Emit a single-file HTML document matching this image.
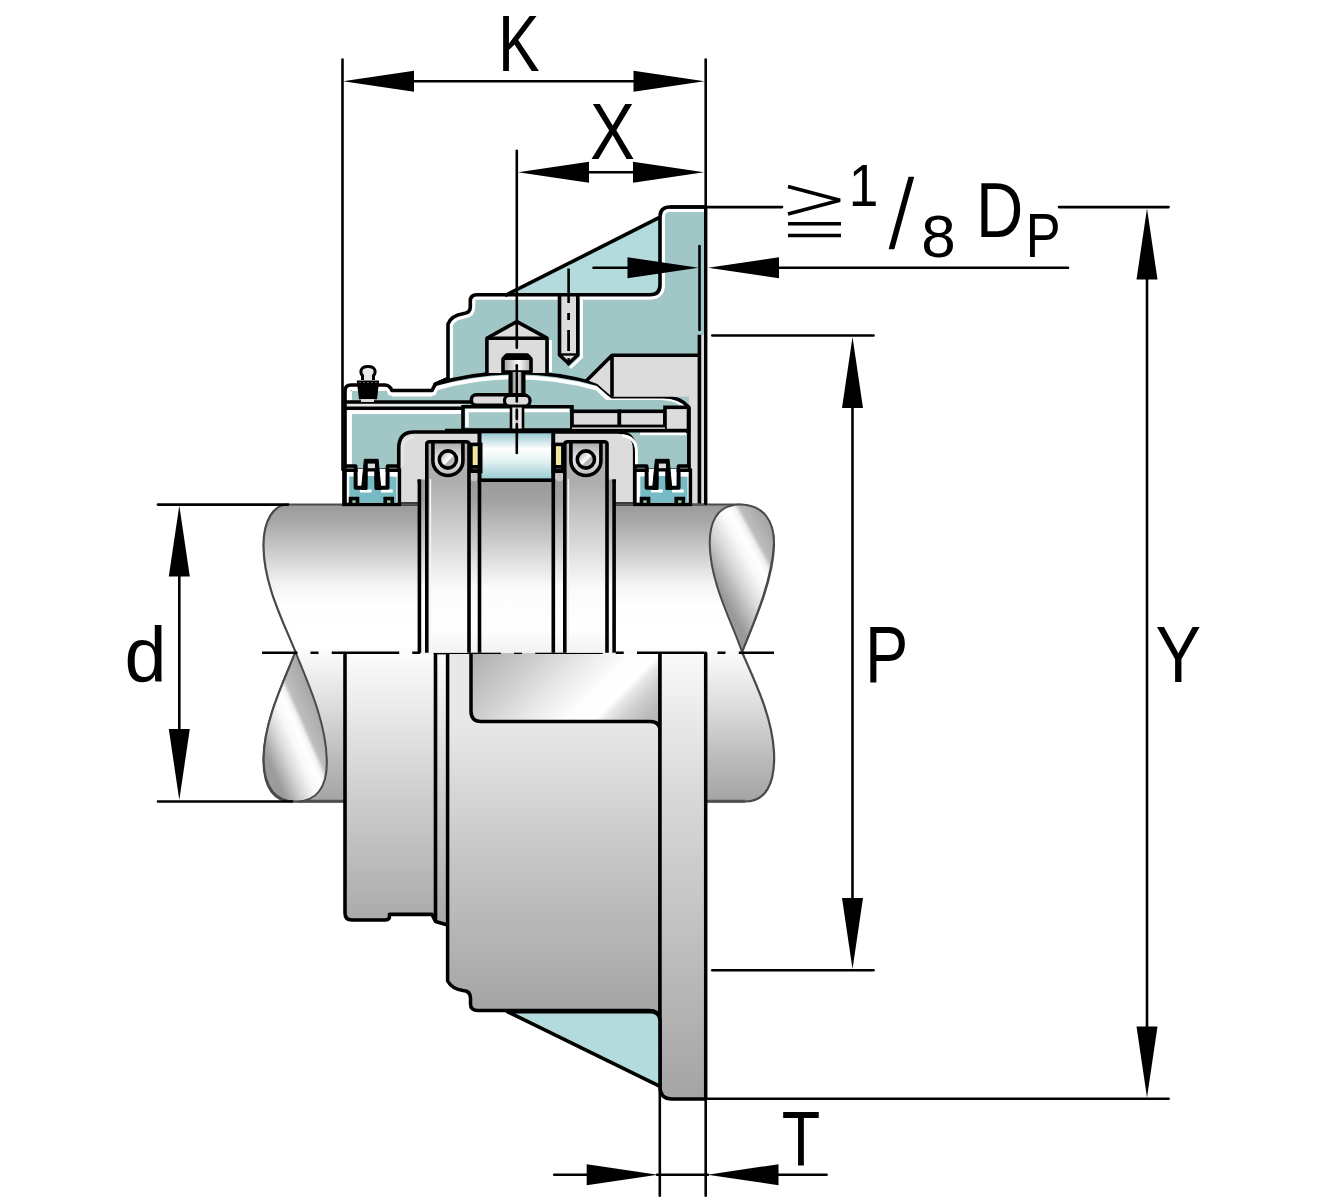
<!DOCTYPE html>
<html><head><meta charset="utf-8"><title>Bearing housing dimensions</title>
<style>html,body{margin:0;padding:0;background:#fff;} svg{display:block;}</style></head>
<body><svg width="1330" height="1200" viewBox="0 0 1330 1200">
<rect width="1330" height="1200" fill="#fff"/>
<defs>
<linearGradient id="gShaft" gradientUnits="userSpaceOnUse" x1="0" y1="504" x2="0" y2="802">
 <stop offset="0" stop-color="#9a9a9a"/><stop offset="0.054" stop-color="#a6a6a6"/><stop offset="0.171" stop-color="#d0d0d0"/>
 <stop offset="0.272" stop-color="#f4f4f4"/><stop offset="0.339" stop-color="#fefefe"/><stop offset="0.473" stop-color="#ffffff"/><stop offset="0.658" stop-color="#e0e0e0"/><stop offset="0.859" stop-color="#bababa"/><stop offset="1" stop-color="#a4a4a4"/>
</linearGradient>
<linearGradient id="gRing" gradientUnits="userSpaceOnUse" x1="0" y1="480" x2="0" y2="653">
 <stop offset="0" stop-color="#9a9a9a"/><stop offset="0.12" stop-color="#a2a2a2"/><stop offset="0.35" stop-color="#cacaca"/>
 <stop offset="0.62" stop-color="#fbfbfb"/><stop offset="0.85" stop-color="#ffffff"/><stop offset="1" stop-color="#f2f2f2"/>
</linearGradient>
<linearGradient id="gRing2" gradientUnits="userSpaceOnUse" x1="0" y1="441" x2="0" y2="653">
 <stop offset="0" stop-color="#b4b4b4"/><stop offset="0.2" stop-color="#aeaeae"/><stop offset="0.45" stop-color="#d4d4d4"/>
 <stop offset="0.7" stop-color="#fbfbfb"/><stop offset="0.88" stop-color="#ffffff"/><stop offset="1" stop-color="#f2f2f2"/>
</linearGradient>
<linearGradient id="gLow" gradientUnits="userSpaceOnUse" x1="0" y1="652" x2="0" y2="1011">
 <stop offset="0" stop-color="#fcfcfc"/><stop offset="0.41" stop-color="#cdcdcd"/><stop offset="0.75" stop-color="#aaaaaa"/><stop offset="1" stop-color="#a3a3a3"/>
</linearGradient>
<linearGradient id="gBody" gradientUnits="userSpaceOnUse" x1="0" y1="722" x2="0" y2="1011">
 <stop offset="0" stop-color="#e8e8e8"/><stop offset="0.5" stop-color="#c4c4c4"/><stop offset="1" stop-color="#a4a4a4"/>
</linearGradient>
<linearGradient id="gFlange" gradientUnits="userSpaceOnUse" x1="0" y1="652" x2="0" y2="1100">
 <stop offset="0" stop-color="#fafafa"/><stop offset="0.12" stop-color="#ececec"/><stop offset="0.3" stop-color="#dadada"/><stop offset="0.7" stop-color="#bbbbbb"/><stop offset="1" stop-color="#a4a4a4"/>
</linearGradient>
<linearGradient id="gRecess" gradientUnits="userSpaceOnUse" x1="470" y1="640" x2="609.6" y2="776.1">
 <stop offset="0" stop-color="#a6a6a6"/><stop offset="0.3" stop-color="#cdcdcd"/><stop offset="0.5" stop-color="#ebebeb"/><stop offset="0.64" stop-color="#fdfdfd"/><stop offset="0.745" stop-color="#ffffff"/><stop offset="0.775" stop-color="#eaeaea"/><stop offset="0.84" stop-color="#d0d0d0"/><stop offset="0.92" stop-color="#bcbcbc"/><stop offset="1" stop-color="#acacac"/>
</linearGradient>
<linearGradient id="gLobeR" gradientUnits="userSpaceOnUse" x1="712" y1="575" x2="777.8" y2="539">
 <stop offset="0" stop-color="#999999"/><stop offset="0.3" stop-color="#d8d8d8"/><stop offset="0.5" stop-color="#f8f8f8"/><stop offset="0.62" stop-color="#ffffff"/><stop offset="0.7" stop-color="#f0f0f0"/><stop offset="0.76" stop-color="#bdbdbd"/><stop offset="1" stop-color="#a4a4a4"/>
</linearGradient>
<linearGradient id="gLobeL" gradientUnits="userSpaceOnUse" x1="262" y1="745" x2="326" y2="716.8">
 <stop offset="0" stop-color="#9c9c9c"/><stop offset="0.25" stop-color="#dadada"/><stop offset="0.42" stop-color="#f8f8f8"/><stop offset="0.55" stop-color="#ffffff"/><stop offset="0.62" stop-color="#f2f2f2"/><stop offset="0.68" stop-color="#bdbdbd"/><stop offset="1" stop-color="#a4a4a4"/>
</linearGradient>
<linearGradient id="gCyl" gradientUnits="userSpaceOnUse" x1="0" y1="432" x2="0" y2="480">
 <stop offset="0" stop-color="#8fc3cc"/><stop offset="0.35" stop-color="#ffffff"/><stop offset="0.6" stop-color="#e4f2f3"/><stop offset="1" stop-color="#96c9d0"/>
</linearGradient>
<linearGradient id="gBall" gradientUnits="userSpaceOnUse" x1="-8" y1="-8" x2="8" y2="8">
 <stop offset="0" stop-color="#a0a0a0"/><stop offset="0.45" stop-color="#f4f4f4"/><stop offset="0.52" stop-color="#ffffff"/><stop offset="0.6" stop-color="#b0b0b0"/><stop offset="1" stop-color="#d8d8d8"/>
</linearGradient>
<linearGradient id="gGroove" gradientUnits="userSpaceOnUse" x1="0" y1="442" x2="0" y2="476">
 <stop offset="0" stop-color="#a8a8a8"/><stop offset="0.5" stop-color="#e8e8e8"/><stop offset="1" stop-color="#bcbcbc"/>
</linearGradient>
<linearGradient id="gBoltS" gradientUnits="userSpaceOnUse" x1="512.6" y1="0" x2="521.3" y2="0">
 <stop offset="0" stop-color="#8c8c8c"/><stop offset="0.5" stop-color="#f2f2f2"/><stop offset="1" stop-color="#a0a0a0"/>
</linearGradient>
<linearGradient id="gBoltH" gradientUnits="userSpaceOnUse" x1="503" y1="0" x2="531" y2="0">
 <stop offset="0" stop-color="#9c9c9c"/><stop offset="0.55" stop-color="#ffffff"/><stop offset="1" stop-color="#a8a8a8"/>
</linearGradient>
</defs>
<path d="M 288,504.5 L 738,504.5 C 764,504.5 774,522 774,545 C 773,580 755,620 742,652 C 754,680 772,715 774,752 C 775.5,785 765,801.5 745,801.5 L 292,801.5 C 276,801.5 263,790 263.5,758 C 264,722 283,683 295.5,652 C 283,621 264,585 263.5,547 C 263,520 274,504.5 288,504.5 Z" fill="url(#gShaft)" stroke="#4a4a4a" stroke-width="2.2"/>
<line x1="298" y1="801.2" x2="345" y2="801.2" stroke="#505050" stroke-width="3"/>
<line x1="706" y1="801.2" x2="745" y2="801.2" stroke="#505050" stroke-width="3"/>
<path d="M 740,504.5 C 716,504.5 709,524 709.8,546 C 711,585 732,622 742,652 C 755,620 772,580 773.9,544 C 774.5,522 764,504.5 740,504.5 Z" fill="url(#gLobeR)" stroke="#4a4a4a" stroke-width="2"/>
<path d="M 295.5,652 C 283,683 264,722 263.7,758 C 263.5,788 276,801.5 296,801.5 C 316,801.5 327.5,788 326.8,760 C 326,722 308,683 295.5,652 Z" fill="url(#gLobeL)" stroke="#4a4a4a" stroke-width="2"/>
<path d="M 345,652.7 V 913 Q 345,920 352,920 H 385 Q 389.5,920 389.5,916 V 914.4 H 432 L 435.5,921.5 L 447.6,925 V 652.7 Z" fill="url(#gLow)"/>
<path d="M 345,652.7 V 913 Q 345,920 352,920 H 385 Q 389.5,920 389.5,916 V 914.4 H 432 L 435.5,921.5 L 447.6,925" fill="none" stroke="#000" stroke-width="3.6" stroke-linejoin="round"/>
<path d="M 447.6,652.7 V 981 Q 452,989 463,990.5 Q 470.5,991 470.5,998 V 1004 Q 470.5,1010.5 478,1010.5 H 649 Q 660,1010.5 660,1021 V 652.7 Z" fill="url(#gBody)"/>
<path d="M 447.6,652.7 V 981 Q 452,989 463,990.5 Q 470.5,991 470.5,998 V 1004 Q 470.5,1010.5 478,1010.5 H 649 Q 660,1010.5 660,1021 V 652.7" fill="none" stroke="#000" stroke-width="3.5" stroke-linejoin="round"/>
<path d="M 471,652.7 V 711 Q 471,721.5 481,721.5 H 650 Q 660,721.5 660,731 V 652.7 Z" fill="url(#gRecess)"/>
<path d="M 471,652.7 V 711 Q 471,721.5 481,721.5 H 650 Q 660,721.5 660,731 V 652.7" fill="none" stroke="#000" stroke-width="3.5" stroke-linejoin="round"/>
<line x1="435.5" y1="652.7" x2="435.5" y2="921" stroke="#000" stroke-width="3.6"/>
<line x1="434" y1="652.9" x2="449" y2="652.9" stroke="#000" stroke-width="3"/>
<path d="M 660,652.7 V 1087 Q 660,1099 672,1099 H 705.7 V 652.7 Z" fill="url(#gFlange)"/>
<path d="M 660,652.7 V 1087 Q 660,1099 672,1099 H 705.7 V 652.7" fill="none" stroke="#000" stroke-width="3.5" stroke-linejoin="round"/>
<path d="M 507.4,1011.6 L 650,1011.6 Q 660,1011.6 660,1021 L 660,1086.3 Z" fill="#b3dbdb" stroke="#000" stroke-width="3.6" stroke-linejoin="round"/>
<line x1="262" y1="652.7" x2="774" y2="652.7" stroke="#000" stroke-width="2.6" stroke-dasharray="67.5 13 8 13.25" stroke-dashoffset="32"/>
<clipPath id="cpH"><path d="M 706,207 H 670 Q 660,207 660,217 V 285 Q 660,294.7 650,294.7 H 477 Q 470.3,294.7 470.3,301 V 307 Q 470.3,312.5 464,313.5 Q 451,315.5 448,324 V 379 L 435.3,384.2 L 432,390.5 H 392 Q 389.5,385 385,385 H 351 Q 345,385 345,391 V 504 H 706 Z"/></clipPath>
<path d="M 706,207 H 670 Q 660,207 660,217 V 285 Q 660,294.7 650,294.7 H 477 Q 470.3,294.7 470.3,301 V 307 Q 470.3,312.5 464,313.5 Q 451,315.5 448,324 V 379 L 435.3,384.2 L 432,390.5 H 392 Q 389.5,385 385,385 H 351 Q 345,385 345,391 V 504 H 706 Z" fill="#a0c6c6"/>
<path d="M 706,207 H 670 Q 660,207 660,217 V 285 Q 660,294.7 650,294.7 H 477 Q 470.3,294.7 470.3,301 V 307 Q 470.3,312.5 464,313.5 Q 451,315.5 448,324 V 379 L 435.3,384.2 L 432,390.5 H 392 Q 389.5,385 385,385 H 351 Q 345,385 345,391 V 504" fill="none" stroke="#fff" stroke-width="10" clip-path="url(#cpH)"/>
<path d="M 506.7,294.7 L 659.4,217.7 V 285 Q 659.4,294.7 650,294.7 Z" fill="#b3dbdb"/>
<line x1="505" y1="295.6" x2="660" y2="217.2" stroke="#000" stroke-width="3.6"/>
<path d="M 436,388.5 Q 515,366 597,388.5 L 607,398 H 662 Q 680,399 689,410" fill="none" stroke="#fff" stroke-width="4"/>
<path d="M 448,378.5 L 435.3,384.2 Q 515,361 597.3,384 Q 604,390 612,396.7 H 662.7 Q 680,396.7 689,407.3 V 469" fill="none" stroke="#000" stroke-width="3.6" stroke-linejoin="round"/>
<path d="M 586.7,380 L 612,355.3 H 698.7 V 396.7 H 612 Q 604,390 597.3,384 Z" fill="#dcdcdc"/>
<path d="M 586.7,380.5 L 612,355.3 H 698.7 M 612,355.3 V 396.7" fill="none" stroke="#000" stroke-width="3.6" stroke-linejoin="round"/>
<rect x="689" y="396" width="17" height="108" fill="#dcdcdc"/>
<rect x="699.4" y="335" width="6.3" height="62" fill="#dcdcdc"/>
<line x1="699.4" y1="334.7" x2="699.4" y2="504" stroke="#000" stroke-width="3.6"/>
<line x1="689" y1="407" x2="689" y2="504" stroke="#000" stroke-width="3.6"/>
<path d="M 486.9,373 V 338.2 L 516.9,321.6 L 547,338.2 V 373" fill="#dcdcdc" stroke="#000" stroke-width="3.6" stroke-linejoin="round"/>
<line x1="486.9" y1="338.2" x2="547" y2="338.2" stroke="#000" stroke-width="3.6"/>
<path d="M 550.5,340 V 372" stroke="#fff" stroke-width="3" fill="none"/>
<path d="M 503,372 V 359 L 507,355 H 527 L 531,359 V 372 Z" fill="url(#gBoltH)" stroke="#000" stroke-width="3.6" stroke-linejoin="round"/>
<path d="M 502,360 V 357.5 L 505.5,353.8 H 528.5 L 532,357.5 V 360 Z" fill="#000"/>
<rect x="508.5" y="371" width="17" height="25" fill="#000"/>
<rect x="512.6" y="372" width="8.7" height="23" fill="url(#gBoltS)"/>
<path d="M 559.5,294.7 V 355 L 568.6,363.5 L 577.8,355 V 294.7" fill="#dcdcdc" stroke="#000" stroke-width="3.6" stroke-linejoin="round"/>
<path d="M 581.5,300 V 357 L 570,368" stroke="#fff" stroke-width="3" fill="none"/>
<line x1="559.5" y1="354.5" x2="577.8" y2="354.5" stroke="#000" stroke-width="2.4"/>
<line x1="568.6" y1="268.5" x2="568.6" y2="303" stroke="#000" stroke-width="2.6"/>
<line x1="568.6" y1="313" x2="568.6" y2="320" stroke="#000" stroke-width="2.8"/>
<line x1="568.6" y1="330" x2="568.6" y2="351" stroke="#000" stroke-width="2.8"/>
<line x1="568.6" y1="358" x2="568.6" y2="365.5" stroke="#000" stroke-width="2.4"/>
<rect x="347" y="403.5" width="116" height="3.5" fill="#e8e8e8"/>
<line x1="345" y1="402" x2="471" y2="402" stroke="#000" stroke-width="3.6"/>
<line x1="345" y1="408.3" x2="463" y2="408.3" stroke="#000" stroke-width="3.6"/>
<line x1="350" y1="412" x2="461" y2="412" stroke="#fff" stroke-width="4"/>
<line x1="350" y1="412" x2="350" y2="466" stroke="#fff" stroke-width="4"/>
<line x1="350" y1="391" x2="350" y2="400" stroke="#fff" stroke-width="4"/>
<line x1="352" y1="389.5" x2="385" y2="389.5" stroke="#fff" stroke-width="3"/>
<line x1="392" y1="394.5" x2="432" y2="394.5" stroke="#fff" stroke-width="4"/>
<rect x="463" y="406.8" width="109" height="23.3" fill="#a0c6c6" stroke="#000" stroke-width="3.6"/>
<path d="M 467,427 V 410.5 H 569" fill="none" stroke="#fff" stroke-width="3.5"/>
<rect x="471.3" y="394.8" width="57.2" height="10.5" rx="5" fill="#dcdcdc" stroke="#000" stroke-width="3.6"/>
<rect x="511" y="404" width="12" height="26" fill="#e8e8e8" stroke="#000" stroke-width="2.6"/>
<rect x="515.5" y="406" width="3" height="22" fill="#bdbdbd"/>
<rect x="504.5" y="395.5" width="25.5" height="10.5" rx="5" fill="#dcdcdc" stroke="#000" stroke-width="3.2"/>
<rect x="572" y="411.3" width="47.4" height="15.1" fill="#dcdcdc" stroke="#000" stroke-width="3.6"/>
<rect x="619.4" y="411.3" width="45.6" height="15.1" fill="#dcdcdc" stroke="#000" stroke-width="3.6"/>
<rect x="665" y="407.3" width="23.5" height="23.9" fill="#dcdcdc" stroke="#000" stroke-width="3.6"/>
<line x1="640" y1="433.5" x2="686" y2="433.5" stroke="#fff" stroke-width="3.5"/>
<rect x="572" y="427.5" width="93" height="2.5" fill="#fff"/>
<path d="M 398.75,504 V 448 Q 398.75,432 414,432 H 617 Q 634.7,432 634.7,450 V 504 Z" fill="#dcdcdc" stroke="#000" stroke-width="3.6"/>
<line x1="445" y1="430.6" x2="690" y2="430.6" stroke="#000" stroke-width="3.6"/>
<path d="M 636.5,468 V 452 Q 636.5,437 622,435.5" fill="none" stroke="#fff" stroke-width="3"/>
<path d="M 402.5,466 V 450 Q 402.5,438 414,437" fill="none" stroke="#e8e8e8" stroke-width="2"/>
<line x1="345" y1="504.4" x2="706" y2="504.4" stroke="#555" stroke-width="2.5"/>
<rect x="419.4" y="479.5" width="194.7" height="173.2" fill="url(#gRing)"/>
<rect x="426.8" y="441.7" width="42.2" height="211" fill="url(#gRing2)"/>
<path d="M 432.9,441.7 V 461 A 15 14.5 0 0 0 462.9,461 V 441.7" fill="url(#gGroove)" stroke="#000" stroke-width="3.6"/>
<path d="M 426.8,652.7 V 444 Q 426.8,441.7 429.9,441.7 H 465.9 Q 469.0,441.7 469.0,444 V 652.7" fill="none" stroke="#000" stroke-width="3.6"/>
<g transform="translate(447.9,459.5)"><circle r="8.6" fill="url(#gBall)" stroke="#000" stroke-width="3.6"/></g>
<line x1="430.4" y1="479" x2="430.4" y2="652" stroke="#f4f4f4" stroke-width="1.5"/>
<rect x="564.8" y="441.7" width="42.2" height="211" fill="url(#gRing2)"/>
<path d="M 570.9,441.7 V 461 A 15 14.5 0 0 0 600.9,461 V 441.7" fill="url(#gGroove)" stroke="#000" stroke-width="3.6"/>
<path d="M 564.8,652.7 V 444 Q 564.8,441.7 567.9,441.7 H 603.9 Q 607.0,441.7 607.0,444 V 652.7" fill="none" stroke="#000" stroke-width="3.6"/>
<g transform="translate(585.9,459.5)"><circle r="8.6" fill="url(#gBall)" stroke="#000" stroke-width="3.6"/></g>
<line x1="568.4" y1="479" x2="568.4" y2="652" stroke="#f4f4f4" stroke-width="1.5"/>
<rect x="479.5" y="431.5" width="73.8" height="48.7" fill="url(#gCyl)" stroke="#000" stroke-width="3.6"/>
<rect x="469.5" y="442.6" width="13.0" height="30.6" fill="#000"/>
<rect x="472.7" y="446.2" width="5.7" height="18.8" fill="#f1e7a3"/>
<rect x="472.7" y="468" width="5.7" height="1.4" fill="#333"/>
<rect x="471.2" y="473.2" width="6.0" height="8" fill="#c4c4c4"/>
<rect x="551.5" y="442.6" width="14.5" height="30.6" fill="#000"/>
<rect x="555.9" y="446.2" width="5.2" height="18.8" fill="#f1e7a3"/>
<rect x="555.9" y="468" width="5.2" height="1.4" fill="#333"/>
<rect x="556.6" y="473.2" width="5.3" height="8" fill="#c4c4c4"/>
<line x1="419.4" y1="479.5" x2="419.4" y2="652.7" stroke="#000" stroke-width="3.6"/>
<line x1="479.5" y1="431" x2="479.5" y2="652.7" stroke="#000" stroke-width="3.6"/>
<line x1="553.3" y1="431" x2="553.3" y2="652.7" stroke="#000" stroke-width="3.6"/>
<line x1="614.1" y1="479.5" x2="614.1" y2="652.7" stroke="#000" stroke-width="3.6"/>
<path d="M 417.5,481 H 421 M 612.5,481 H 616" stroke="#000" stroke-width="3"/>
<g>
<rect x="634.9" y="470.2" width="55.5" height="34.2" fill="#fff" stroke="#000" stroke-width="3.5"/>
<rect x="640.3" y="476.5" width="47.2" height="26" fill="#76bac4"/>
<rect x="651" y="489.5" width="11.7" height="3" fill="#fff"/>
<rect x="672" y="489.5" width="11.8" height="3" fill="#fff"/>
<rect x="683.8" y="472" width="4.4" height="4.5" fill="#fff"/>
<polygon points="648.6,469 655.2,469 653.4,486 648.6,486" fill="#fff"/>
<polygon points="669.6,469 676.6,469 676.6,486 671.4,486" fill="#fff"/>
<polygon points="655.4,459.3 669.1,459.3 671.9,489.4 666,489.4 665.2,471.5 658.8,471.5 658,489.4 652.5,489.4" fill="#000" stroke="#000" stroke-width="1" stroke-linejoin="round"/>
<rect x="658.8" y="463.6" width="7.2" height="4.6" fill="#dcdcdc"/>
<rect x="658.8" y="471.5" width="6.4" height="4.5" fill="#fff"/>
<rect x="658.8" y="476" width="6.4" height="11" fill="#76bac4"/>
<path d="M 634.9,466.2 H 646.6 V 487.8 H 656 M 669,487.8 H 678.6 V 466.2 H 690.4" fill="none" stroke="#000" stroke-width="3.9" stroke-linejoin="round"/>
<line x1="634.9" y1="470.3" x2="647" y2="470.3" stroke="#000" stroke-width="3"/>
<line x1="678" y1="470.3" x2="690.4" y2="470.3" stroke="#000" stroke-width="3"/>
<line x1="637" y1="468.2" x2="645" y2="468.2" stroke="#777" stroke-width="1"/>
<line x1="680" y1="468.2" x2="688" y2="468.2" stroke="#777" stroke-width="1"/>
<path d="M 641.5,504 V 498.5 H 648.5 V 504 M 676.2,504 V 498.5 H 683.3 V 504" fill="none" stroke="#000" stroke-width="3.6"/>
<circle cx="645" cy="502" r="1" fill="#9c4"/><circle cx="679.8" cy="502" r="1" fill="#9c4"/>
</g>
<g transform="translate(-291,0)"><g>
<rect x="634.9" y="470.2" width="55.5" height="34.2" fill="#fff" stroke="#000" stroke-width="3.5"/>
<rect x="640.3" y="476.5" width="47.2" height="26" fill="#76bac4"/>
<rect x="651" y="489.5" width="11.7" height="3" fill="#fff"/>
<rect x="672" y="489.5" width="11.8" height="3" fill="#fff"/>
<rect x="683.8" y="472" width="4.4" height="4.5" fill="#fff"/>
<polygon points="648.6,469 655.2,469 653.4,486 648.6,486" fill="#fff"/>
<polygon points="669.6,469 676.6,469 676.6,486 671.4,486" fill="#fff"/>
<polygon points="655.4,459.3 669.1,459.3 671.9,489.4 666,489.4 665.2,471.5 658.8,471.5 658,489.4 652.5,489.4" fill="#000" stroke="#000" stroke-width="1" stroke-linejoin="round"/>
<rect x="658.8" y="463.6" width="7.2" height="4.6" fill="#dcdcdc"/>
<rect x="658.8" y="471.5" width="6.4" height="4.5" fill="#fff"/>
<rect x="658.8" y="476" width="6.4" height="11" fill="#76bac4"/>
<path d="M 634.9,466.2 H 646.6 V 487.8 H 656 M 669,487.8 H 678.6 V 466.2 H 690.4" fill="none" stroke="#000" stroke-width="3.9" stroke-linejoin="round"/>
<line x1="634.9" y1="470.3" x2="647" y2="470.3" stroke="#000" stroke-width="3"/>
<line x1="678" y1="470.3" x2="690.4" y2="470.3" stroke="#000" stroke-width="3"/>
<line x1="637" y1="468.2" x2="645" y2="468.2" stroke="#777" stroke-width="1"/>
<line x1="680" y1="468.2" x2="688" y2="468.2" stroke="#777" stroke-width="1"/>
<path d="M 641.5,504 V 498.5 H 648.5 V 504 M 676.2,504 V 498.5 H 683.3 V 504" fill="none" stroke="#000" stroke-width="3.6"/>
<circle cx="645" cy="502" r="1" fill="#9c4"/><circle cx="679.8" cy="502" r="1" fill="#9c4"/>
</g></g>
<path d="M 356.7,380.5 H 379.2 L 377,399.2 H 359 Z" fill="#000"/>
<path d="M 362.5,380 V 375.5 Q 360.5,374 361,370.5 Q 362,366.5 368,366.5 Q 374,366.5 375,370.5 Q 375.5,374 373.5,375.5 V 380" fill="#e8e8e8" stroke="#000" stroke-width="3"/>
<line x1="359" y1="382.6" x2="377" y2="382.6" stroke="#555" stroke-width="1" stroke-dasharray="2 2"/>
<rect x="361" y="399" width="13" height="3" fill="#dcdcdc"/>
<path d="M 706,207 H 670 Q 660,207 660,217 V 285 Q 660,294.7 650,294.7 H 477 Q 470.3,294.7 470.3,301 V 307 Q 470.3,312.5 464,313.5 Q 451,315.5 448,324 V 379 L 435.3,384.2 L 432,390.5 H 392 Q 389.5,385 385,385 H 351 Q 345,385 345,391 V 504" fill="none" stroke="#000" stroke-width="3.6" stroke-linejoin="round"/>
<line x1="670" y1="207" x2="707" y2="207" stroke="#000" stroke-width="3.6"/>
<line x1="705.7" y1="206" x2="705.7" y2="504" stroke="#000" stroke-width="3.4"/>
<g stroke="#000" stroke-width="2.6" fill="none" stroke-linecap="round">
<line x1="342.5" y1="59.5" x2="342.5" y2="470"/>
<line x1="705.7" y1="59.5" x2="705.7" y2="504"/>
<line x1="705.7" y1="652.7" x2="705.7" y2="1195.7"/>
<line x1="410" y1="81.2" x2="640" y2="81.2"/>
<line x1="516.8" y1="150.7" x2="516.8" y2="347.8"/>
<line x1="516.8" y1="365.3" x2="516.8" y2="401.5"/>
<line x1="516.8" y1="409.7" x2="516.8" y2="419"/>
<line x1="516.8" y1="424" x2="516.8" y2="453"/>
<line x1="585" y1="172.3" x2="638" y2="172.3"/>
<line x1="706" y1="207.1" x2="782" y2="207.1"/>
<line x1="1059" y1="207.1" x2="1168.6" y2="207.1"/>
<line x1="593.5" y1="267.8" x2="632" y2="267.8"/>
<line x1="774" y1="267.8" x2="1068" y2="267.8"/>
<line x1="712.3" y1="335.5" x2="873.5" y2="335.5"/>
<line x1="712.3" y1="970.2" x2="873.5" y2="970.2"/>
<line x1="852.5" y1="404" x2="852.5" y2="902"/>
<line x1="706" y1="1098.7" x2="1168.6" y2="1098.7"/>
<line x1="1147" y1="275" x2="1147" y2="1031"/>
<line x1="158" y1="504.6" x2="288" y2="504.6"/>
<line x1="158" y1="801.5" x2="292" y2="801.5"/>
<line x1="179.3" y1="572" x2="179.3" y2="733"/>
<line x1="659.8" y1="1088" x2="659.8" y2="1195.7"/>
<line x1="554.2" y1="1174.7" x2="592" y2="1174.7"/>
<line x1="657" y1="1174.7" x2="708" y2="1174.7"/>
<line x1="774" y1="1174.7" x2="826.6" y2="1174.7"/>
<line x1="699.5" y1="246" x2="699.5" y2="330"/>
</g>
<g fill="#000">
<polygon points="343.0,81.2 414.0,70.7 414.0,91.7"/>
<polygon points="704.5,81.2 633.5,70.7 633.5,91.7"/>
<polygon points="518.0,172.3 589.0,161.8 589.0,182.8"/>
<polygon points="704.0,172.3 633.0,161.8 633.0,182.8"/>
<polygon points="698.5,267.8 627.5,257.3 627.5,278.3"/>
<polygon points="708.0,267.8 779.0,257.3 779.0,278.3"/>
<polygon points="852.5,337.0 842.0,408.0 863.0,408.0"/>
<polygon points="852.5,969.0 842.0,898.0 863.0,898.0"/>
<polygon points="1147.0,208.6 1136.5,279.6 1157.5,279.6"/>
<polygon points="1147.0,1097.5 1136.5,1026.5 1157.5,1026.5"/>
<polygon points="179.3,505.5 168.8,576.5 189.8,576.5"/>
<polygon points="179.3,800.0 168.8,729.0 189.8,729.0"/>
<polygon points="657.7,1174.7 586.7,1164.2 586.7,1185.2"/>
<polygon points="707.5,1174.7 778.5,1164.2 778.5,1185.2"/>
</g>
<g font-family="Liberation Sans" fill="#000">
<text transform="translate(498.00,70.90) scale(0.6246,0.7928)" font-size="100">K</text>
<text transform="translate(589.88,158.80) scale(0.6738,0.7928)" font-size="100">X</text>
<text transform="translate(848.74,205.70) scale(0.5326,0.5957)" font-size="100">1</text>
<text transform="translate(921.22,256.80) scale(0.6191,0.6000)" font-size="100">8</text>
<text transform="translate(975.97,237.10) scale(0.6542,0.7841)" font-size="100">D</text>
<text transform="translate(1025.82,256.80) scale(0.5226,0.6275)" font-size="100">P</text>
<text transform="translate(865.01,682.10) scale(0.6491,0.7913)" font-size="100">P</text>
<text transform="translate(1155.45,682.10) scale(0.6836,0.7913)" font-size="100">Y</text>
<text transform="translate(124.48,681.72) scale(0.7556,0.7838)" font-size="100">d</text>
<text transform="translate(781.84,1165.60) scale(0.6298,0.7841)" font-size="100">T</text>
</g>
<polygon points="888.6,249.2 894.3,249.2 914.2,176.8 908.5,176.8" fill="#000"/>
<g stroke="#000" stroke-width="3.6" fill="none"><polyline points="788,186.6 840,200.3 788,214" stroke-linejoin="bevel"/><line x1="788" y1="223.8" x2="841" y2="223.8"/><line x1="788" y1="235.5" x2="841" y2="235.5"/></g>
</svg></body></html>
